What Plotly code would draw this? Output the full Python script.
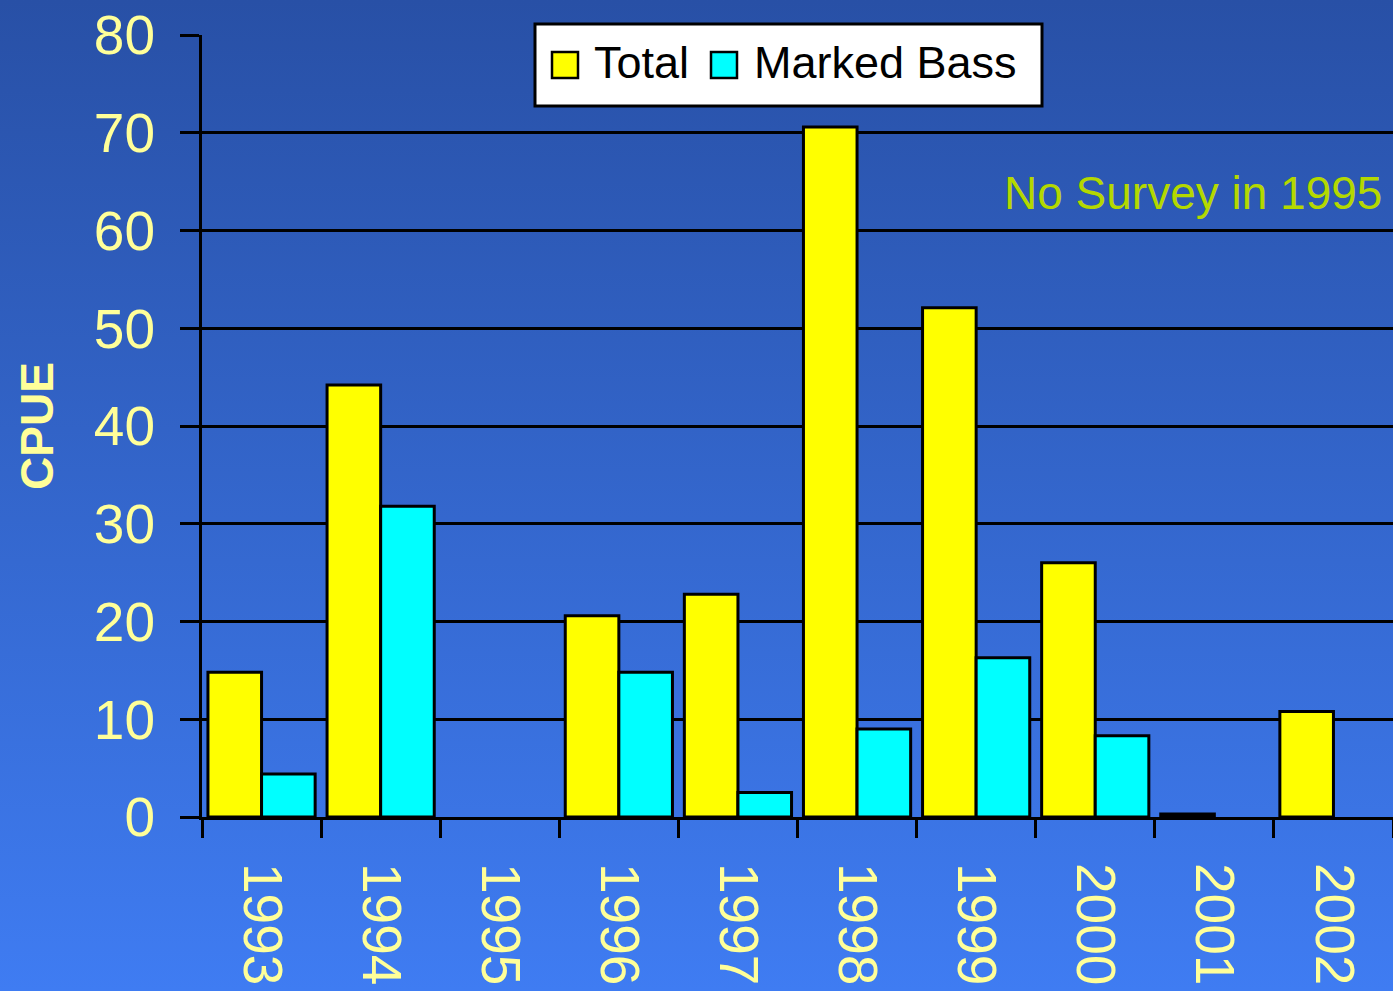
import base64
import plotly.graph_objects as go

# ---- data ----
years = ["1993", "1994", "1995", "1996", "1997", "1998", "1999", "2000", "2001", "2002"]
total = [14.8, 44.2, None, 20.6, 22.8, 70.6, 52.1, 26.0, 0.3, 10.8]
marked = [4.4, 31.8, None, 14.8, 2.5, 9.0, 16.3, 8.3, None, None]
series_names = ["Total", "Marked Bass"]
series_colors = ["#ffff00", "#00ffff"]
y_title = "CPUE"
note_text = "No Survey in 1995"

W, H = 1393, 991
L, R, T, B = 202, 0, 35, 174
PW, PH = W - L - R, H - T - B


def px(x):
    return (x - L) / PW


def py(y):
    return (H - B - y) / PH


fig = go.Figure()
for name, vals, col in zip(series_names, [total, marked], series_colors):
    fig.add_trace(go.Bar(
        x=years, y=vals, name=name, showlegend=False,
        marker=dict(color=col, line=dict(color="black", width=3)),
    ))

# gradient background
svg = ('<svg xmlns="http://www.w3.org/2000/svg" width="100" height="100" viewBox="0 0 100 100" '
       'preserveAspectRatio="none"><defs><linearGradient id="g" x1="0" y1="0" x2="0" y2="1">'
       '<stop offset="0" stop-color="#2850a6"/><stop offset="1" stop-color="#3f7cf2"/>'
       '</linearGradient></defs><rect width="100" height="100" fill="url(#g)"/></svg>')
src = "data:image/svg+xml;base64," + base64.b64encode(svg.encode()).decode()
fig.add_layout_image(dict(
    source=src, xref="paper", yref="paper", x=px(0), y=py(0),
    sizex=W / PW, sizey=H / PH, sizing="stretch", xanchor="left", yanchor="top",
    layer="below",
))

shapes = []
# custom legend box
shapes.append(dict(type="rect", xref="paper", yref="paper",
                   x0=px(535), x1=px(1042), y0=py(106), y1=py(24),
                   fillcolor="white", line=dict(color="black", width=3), layer="above"))
annotations = []
for (sx, tx), name, col in zip([(552, 592), (711, 752)], series_names, series_colors):
    shapes.append(dict(type="rect", xref="paper", yref="paper",
                       x0=px(sx), x1=px(sx + 26), y0=py(78), y1=py(52),
                       fillcolor=col, line=dict(color="black", width=2.5), layer="above"))
    annotations.append(dict(text=name, xref="paper", yref="paper", x=px(tx), y=py(63),
                            xanchor="left", yanchor="middle", showarrow=False,
                            font=dict(family="Liberation Sans, Arial, sans-serif", size=45, color="black")))

annotations.append(dict(text=note_text, xref="paper", yref="paper", x=px(1002), y=py(193),
                        xanchor="left", yanchor="middle", showarrow=False,
                        font=dict(family="Liberation Sans, Arial, sans-serif", size=46, color="#b4d800")))

fig.update_layout(
    width=W, height=H, autosize=False,
    margin=dict(l=L, r=R, t=T, b=B, pad=0),
    paper_bgcolor="rgba(0,0,0,0)", plot_bgcolor="rgba(0,0,0,0)",
    barmode="group", bargap=0.1, bargroupgap=0,
    shapes=shapes, annotations=annotations,
    xaxis=dict(
        type="category", range=[-0.5, 9.5], tickson="boundaries",
        ticks="outside", ticklen=18, tickwidth=2.5, tickcolor="black",
        showline=True, linecolor="black", linewidth=3, showgrid=False,
        tickangle=90, ticklabelstandoff=32,
        tickfont=dict(family="Liberation Sans, Arial, sans-serif", size=55, color="#ffff99"),
    ),
    yaxis=dict(
        range=[0, 80], dtick=10, tick0=0,
        ticks="outside", ticklen=19, tickwidth=2.5, tickcolor="black",
        showline=True, linecolor="black", linewidth=3,
        showgrid=True, gridcolor="black", gridwidth=2.5, zeroline=False,
        ticklabelstandoff=14,
        tickfont=dict(family="Liberation Sans, Arial, sans-serif", size=55, color="#ffff99"),
        title=dict(text=y_title, standoff=26,
                   font=dict(family="Liberation Sans Narrow, Liberation Sans, Arial, sans-serif",
                             size=46, color="#ffff99", weight="bold")),
    ),
)

fig.write_html("out.html", config={"displayModeBar": False},
               post_script="document.body.style.margin='0';document.body.style.background='#3f7cf2';")
